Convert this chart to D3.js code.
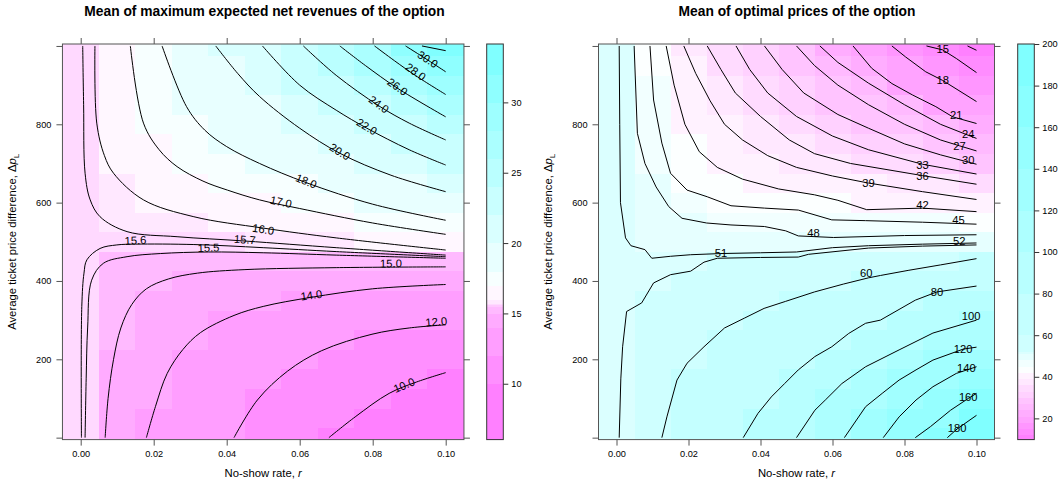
<!DOCTYPE html>
<html>
<head>
<meta charset="utf-8">
<script src="https://cdnjs.cloudflare.com/ajax/libs/d3/7.8.5/d3.min.js"></script>
<style>
  body { margin: 0; background: #fff; }
  text { font-family: "Liberation Sans", Arial, Helvetica, sans-serif; }
</style>
</head>
<body>
<div id="graph"></div>
<script>

// grid of the level plots: no-show rate r (columns) x ticket price difference (rows)
var rates = [0, 0.01, 0.02, 0.03, 0.04, 0.05, 0.06, 0.07, 0.08, 0.09, 0.1];
var priceDiffs = [0, 50, 100, 150, 200, 250, 300, 350, 400, 450, 500,
                  550, 600, 650, 700, 750, 800, 850, 900, 950, 1000];

// axis ticks
var xTicks = [0, 0.02, 0.04, 0.06, 0.08, 0.1];
var yTicks = [0, 200, 400, 600, 800, 1000];
var yLabelled = [200, 400, 600, 800];

// left panel: mean of maximum expected net revenues, one array per rate column
var revenueGrid = [
  [15.65, 15.65, 15.65, 15.65, 15.65, 15.65, 15.65, 15.65, 15.65, 15.65, 15.65, 15.65, 15.65, 15.65, 15.65, 15.65, 15.65, 15.65, 15.65, 15.65, 15.65],
  [14.6, 14.7, 14.8, 14.9, 14.95, 15.05, 15.2, 15.3, 15.4, 15.48, 15.65, 15.75, 15.85, 15.95, 16.2, 16.4, 16.5, 16.6, 16.7, 16.8, 16.9],
  [13.7, 13.95, 14.1, 14.3, 14.5, 14.65, 14.8, 14.9, 15.05, 15.35, 15.62, 15.8, 16.02, 16.3, 16.6, 16.95, 17.2, 17.4, 17.6, 17.75, 17.9],
  [13.0, 13.2, 13.4, 13.6, 13.8, 14.05, 14.4, 14.65, 14.9, 15.3, 15.65, 15.85, 16.3, 16.75, 17.15, 17.45, 17.8, 18.2, 18.6, 19.0, 19.4],
  [12.1, 12.4, 12.7, 13.0, 13.3, 13.6, 13.98, 14.4, 14.8, 15.25, 15.65, 16.0, 16.6, 17.15, 17.6, 18.05, 18.5, 18.9, 19.3, 19.8, 20.3],
  [11.3, 11.6, 11.9, 12.3, 12.6, 13.1, 13.6, 14.15, 14.7, 15.25, 15.72, 16.2, 16.95, 17.5, 18.05, 18.6, 19.2, 19.8, 20.5, 21.2, 21.95],
  [10.5, 10.8, 11.2, 11.6, 12.1, 12.6, 13.3, 13.95, 14.5, 15.25, 15.75, 16.4, 17.2, 17.9, 18.6, 19.4, 20.2, 21.1, 22.0, 22.9, 23.9],
  [9.9, 10.4, 10.8, 11.2, 11.7, 12.2, 12.9, 13.7, 14.4, 15.25, 15.85, 16.7, 17.6, 18.5, 19.5, 20.4, 21.3, 22.3, 23.4, 24.6, 25.9],
  [9.3, 9.8, 10.3, 10.8, 11.3, 11.85, 12.6, 13.5, 14.3, 15.2, 16.0, 17.05, 18.1, 19.1, 20.2, 21.3, 22.4, 23.8, 25.0, 26.2, 27.8],
  [8.6, 9.0, 9.6, 10.2, 10.9, 11.6, 12.2, 13.4, 14.3, 15.3, 16.3, 17.4, 18.7, 19.9, 21.0, 22.4, 23.9, 25.4, 26.8, 28.4, 30.1],
  [8.0, 8.6, 9.2, 9.8, 10.6, 11.4, 12.2, 13.2, 14.2, 15.3, 16.6, 17.8, 19.2, 20.7, 22.1, 23.7, 25.4, 27.1, 28.8, 30.5, 32.4]
];
var revenueLevels = [10, 12, 14, 15, 15.5, 15.6, 15.7, 16, 17, 18, 20, 22, 24, 26, 28, 30, 32];
var revenueRange = [6.03, 34.15];
var revenueKeyTicks = [10, 15, 20, 25, 30];

// contour lines: [rate, price difference]
var revenueLines = [
  {level: 10, label: [0.0886, 134], points: [[0.068, 0], [0.0752, 53], [0.0845, 113], [0.092, 142], [0.1, 166]]},
  {level: 12, label: [0.0974, 296], points: [[0.042, 0], [0.0484, 96], [0.0567, 170], [0.066, 222], [0.0798, 264], [0.09, 280], [0.1, 288]]},
  {level: 14, label: [0.0632, 364], points: [[0.018, 0], [0.0205, 80], [0.0237, 164], [0.028, 225], [0.0328, 268], [0.042, 312], [0.05, 335], [0.063, 358], [0.08, 380], [0.1, 391]]},
  {level: 15, label: [0.085, 445], points: [[0.0067, 0], [0.0075, 100], [0.009, 200], [0.011, 280], [0.014, 340], [0.018, 380], [0.024, 405], [0.032, 420], [0.045, 429], [0.07, 434], [0.1, 436]]},
  {level: 15.5, label: [0.035, 485], points: [[0.0012, 0], [0.0015, 150], [0.0019, 280], [0.003, 402], [0.0062, 445], [0.0127, 462], [0.0218, 470], [0.035, 474], [0.05, 472], [0.07, 466], [0.1, 458]]},
  {level: 15.6, label: [0.015, 504], points: [[0.0002, 0], [0.0003, 335], [0.0009, 420], [0.0017, 454], [0.0053, 483], [0.0099, 492], [0.015, 494], [0.031, 493], [0.05, 485], [0.07, 475], [0.1, 462]]},
  {level: 15.7, label: [0.045, 506], points: [[0.00055, 1000], [0.0008, 850], [0.0012, 675], [0.0026, 607], [0.0053, 564], [0.0127, 526], [0.0264, 513], [0.045, 502], [0.07, 485], [0.1, 466]]},
  {level: 16, label: [0.05, 532], points: [[0.0039, 1000], [0.0044, 803], [0.0065, 720], [0.009, 675], [0.0172, 607], [0.031, 564], [0.05, 535], [0.07, 510], [0.1, 479]]},
  {level: 17, label: [0.0549, 602], points: [[0.0136, 1000], [0.0172, 803], [0.0215, 735], [0.0264, 692], [0.0335, 655], [0.0402, 632], [0.049, 607], [0.06, 585], [0.08, 548], [0.1, 519]]},
  {level: 18, label: [0.0618, 655], points: [[0.0223, 1000], [0.029, 845], [0.034, 785], [0.04, 743], [0.049, 700], [0.0618, 651], [0.08, 596], [0.1, 555]]},
  {level: 20, label: [0.071, 730], points: [[0.037, 1000], [0.043, 930], [0.049, 871], [0.06, 790], [0.071, 726], [0.085, 670], [0.1, 628]]},
  {level: 22, label: [0.0784, 794], points: [[0.0498, 1000], [0.06, 900], [0.07, 836], [0.0784, 790], [0.09, 735], [0.1, 696]]},
  {level: 24, label: [0.0817, 851], points: [[0.061, 1000], [0.07, 925], [0.0817, 847], [0.09, 803], [0.1, 760]]},
  {level: 26, label: [0.0868, 896], points: [[0.071, 1000], [0.078, 950], [0.0868, 892], [0.1, 819]]},
  {level: 28, label: [0.0918, 934], points: [[0.0805, 1000], [0.086, 962], [0.0918, 924], [0.1, 876]]},
  {level: 30, label: [0.0951, 966], points: [[0.089, 1000], [0.0951, 964], [0.1, 934]]},
  {level: 32, label: null, points: [[0.0935, 1000], [0.1, 988]]}
];

// right panel: mean of optimal prices, one array per rate column
var priceGrid = [
  [51.5, 51.5, 51.5, 51.5, 51.5, 51.5, 51.5, 51.5, 51.5, 51.5, 51.5, 51.5, 51.5, 51.5, 51.5, 51.5, 51.5, 51.5, 51.5, 51.5, 51.5],
  [55.5, 55, 54.5, 54, 53.6, 53.2, 52.8, 52.4, 51.9, 51.1, 50.4, 49.7, 49, 48.2, 47.5, 46.9, 46.2, 45.6, 45.05, 44.3, 43.5],
  [67, 65, 63.5, 62, 59.5, 57.5, 56, 54, 52.5, 51.5, 50, 48.3, 46.5, 44.7, 43.8, 42.8, 41.8, 41, 40.3, 39.6, 38.8],
  [77, 74, 71, 68, 65, 62, 59, 57, 55, 52.5, 50, 47.8, 44.8, 43, 41.5, 40.2, 39, 37.8, 36.6, 35.4, 34.2],
  [85, 81.5, 77, 73, 69, 65, 61.5, 58.5, 55.5, 52.5, 49.8, 47.3, 44.5, 41.8, 40.1, 38.4, 36.7, 35, 33.2, 32, 30.6],
  [99.5, 94, 88, 82, 77, 72, 67, 61, 57, 52.6, 49.5, 46.5, 43, 41, 38.5, 36.1, 33.8, 31.9, 30.1, 28.5, 27.1],
  [115, 108, 102, 95, 85, 78, 71, 64, 58, 54, 49.5, 45.5, 42.5, 40, 37, 34.2, 31.5, 29, 27.3, 25, 22.5],
  [130, 124, 117, 108, 98, 90, 79, 70, 61, 55, 49, 45.3, 41, 39, 35.5, 31.8, 29.5, 27, 24.3, 21.2, 19],
  [150, 144, 134, 122, 111, 95, 88, 76, 65, 57, 50, 45.2, 41, 38, 34, 30.2, 27.2, 24.2, 20, 19, 16.5],
  [176, 159, 151, 138, 121, 107, 94, 85, 74, 59, 50, 45.2, 41, 37, 32, 28, 24.2, 20.5, 18.5, 16.5, 14.5],
  [195, 182, 166, 153, 131, 116, 100.5, 87, 74, 61, 49, 44.5, 39.5, 35.8, 29.8, 25.8, 21.2, 19, 16.5, 13.6, 11]
];
var priceLevels = [12, 15, 18, 21, 24, 27, 30, 33, 36, 39, 42, 45, 48, 51, 52, 60, 80, 100, 120, 140, 160, 180];
var priceRange = [9.8, 200];
var priceKeyTicks = [20, 40, 60, 80, 100, 120, 140, 160, 180, 200];

var priceLines = [
  {level: 12, label: null, points: [[0.0975, 1000], [0.1, 989]]},
  {level: 15, label: [0.0906, 991], points: [[0.0861, 1000], [0.0906, 990], [0.0944, 968], [0.1, 932]]},
  {level: 18, label: [0.0906, 913], points: [[0.0765, 1000], [0.0803, 972], [0.0859, 934], [0.0906, 912], [0.1, 858]]},
  {level: 21, label: [0.0944, 824], points: [[0.0657, 1000], [0.0709, 943], [0.0765, 904], [0.0822, 875], [0.0887, 845], [0.0934, 819], [0.1, 802]]},
  {level: 24, label: [0.0977, 774], points: [[0.0565, 1000], [0.0615, 958], [0.07, 905], [0.08, 850], [0.09, 800], [0.0977, 772], [0.1, 764]]},
  {level: 27, label: [0.0953, 745], points: [[0.05, 1000], [0.055, 950], [0.0615, 900], [0.07, 850], [0.08, 800], [0.09, 760], [0.0953, 745], [0.1, 732]]},
  {level: 30, label: [0.0977, 709], points: [[0.0411, 1000], [0.046, 940], [0.052, 880], [0.0615, 825], [0.07, 790], [0.08, 750], [0.09, 722], [0.1, 698]]},
  {level: 33, label: [0.085, 696], points: [[0.0332, 1000], [0.037, 940], [0.042, 880], [0.05, 820], [0.06, 770], [0.07, 735], [0.085, 698], [0.1, 673]]},
  {level: 36, label: [0.085, 668], points: [[0.0252, 1000], [0.029, 940], [0.033, 880], [0.04, 820], [0.048, 760], [0.055, 725], [0.065, 700], [0.085, 669], [0.1, 647]]},
  {level: 39, label: [0.07, 650], points: [[0.0187, 1000], [0.022, 930], [0.026, 860], [0.03, 800], [0.035, 760], [0.042, 720], [0.05, 690], [0.06, 668], [0.07, 650], [0.085, 628], [0.1, 608]]},
  {level: 42, label: [0.085, 595], points: [[0.0138, 1000], [0.016, 900], [0.019, 800], [0.023, 730], [0.028, 690], [0.035, 660], [0.045, 635], [0.055, 620], [0.0615, 606], [0.0695, 582], [0.085, 586], [0.1, 577]]},
  {level: 45, label: [0.095, 555], points: [[0.0093, 1000], [0.0103, 862], [0.0126, 752], [0.015, 675], [0.0196, 632], [0.0252, 615], [0.0318, 592], [0.0411, 586], [0.0505, 581], [0.0598, 556], [0.0692, 554], [0.085, 550], [0.1, 545]]},
  {level: 48, label: [0.0547, 522], points: [[0.0049, 1000], [0.0058, 777], [0.0079, 700], [0.011, 640], [0.0145, 590], [0.0182, 560], [0.025, 548], [0.0318, 543], [0.0411, 539], [0.047, 528], [0.0505, 515], [0.0603, 511], [0.08, 516], [0.1, 518]]},
  {level: 51, label: [0.029, 472], points: [[0.00075, 1000], [0.0009, 800], [0.0011, 600], [0.0025, 510], [0.004, 490], [0.0079, 480], [0.0098, 458], [0.015, 463], [0.0206, 467], [0.029, 470], [0.04, 472], [0.05, 474], [0.06, 485], [0.07, 490], [0.085, 494], [0.1, 497]]},
  {level: 52, label: [0.0952, 502], points: [[0.00075, 0], [0.0012, 150], [0.0017, 232], [0.0028, 322], [0.007, 344], [0.0103, 395], [0.015, 416], [0.0206, 425], [0.0243, 448], [0.028, 458], [0.04, 460], [0.0505, 461], [0.0533, 468], [0.07, 484], [0.085, 489], [0.1, 492]]},
  {level: 60, label: [0.0694, 420], points: [[0.0126, 0], [0.014, 53], [0.0168, 147], [0.0196, 190], [0.0243, 232], [0.03, 280], [0.0355, 305], [0.041, 330], [0.047, 348], [0.055, 372], [0.063, 392], [0.07, 408], [0.0733, 414], [0.081, 427], [0.09, 441], [0.1, 457]]},
  {level: 80, label: [0.089, 373], points: [[0.0352, 0], [0.0393, 62], [0.043, 104], [0.0467, 138], [0.0505, 173], [0.0551, 207], [0.0598, 232], [0.0645, 266], [0.0692, 292], [0.0733, 300], [0.083, 351], [0.089, 372], [0.1, 387]]},
  {level: 100, label: [0.0985, 311], points: [[0.05, 0], [0.0551, 70], [0.058, 96], [0.0626, 138], [0.0692, 181], [0.0785, 224], [0.0879, 267], [0.1, 300]]},
  {level: 120, label: [0.0963, 226], points: [[0.0633, 0], [0.0692, 79], [0.0738, 113], [0.0785, 147], [0.0832, 173], [0.0879, 198], [0.0963, 226], [0.1, 231]]},
  {level: 140, label: [0.0972, 177], points: [[0.0741, 0], [0.0785, 53], [0.0832, 96], [0.0879, 130], [0.0944, 164], [0.1, 181]]},
  {level: 160, label: [0.0977, 104], points: [[0.083, 0], [0.0872, 28], [0.0928, 70], [0.0977, 100], [0.1, 113]]},
  {level: 180, label: [0.0946, 24], points: [[0.0919, 0], [0.0946, 22], [0.1, 57]]}
];


// lattice default regions palette: pink -> white -> cyan (100 colours)
function regionColor(k) {
  if (k < 50) {
    var s = 0.5 - k * 0.49 / 49;
    return d3.rgb(255, 255 * (1 - s), 255).formatHex();
  }
  var s2 = 0.01 + (k - 50) * 0.49 / 49;
  return d3.rgb(255 * (1 - s2), 255, 255).formatHex();
}
function bandColors(n) {
  return d3.range(n).map(function(i) { return regionColor(Math.round(i * 99 / (n - 1))); });
}

// angle of the contour segment under a label, in screen space
function labelAngle(pts, lx) {
  for (var k = 0; k < pts.length - 1; k++) {
    var a = pts[k], b = pts[k + 1];
    if ((lx - a[0]) * (lx - b[0]) <= 0 && a[0] !== b[0]) {
      return Math.atan2(b[1] - a[1], b[0] - a[0]) * 180 / Math.PI;
    }
  }
  return 0;
}

var svg = d3.select("#graph")
  .append("svg")
    .attr("width", 1058)
    .attr("height", 480);

var top0 = 44, bottom0 = 439.6;

function drawPanel(cfg) {
  var g = svg.append("g");

  var x = d3.scaleLinear().domain([-0.005, 0.105]).range([cfg.left, cfg.right]);
  var y = d3.scaleLinear().domain([-5, 1005]).range([bottom0, top0]);

  svg.append("clipPath").attr("id", "clip-" + cfg.id)
    .append("rect")
      .attr("x", cfg.left).attr("y", top0)
      .attr("width", cfg.right - cfg.left).attr("height", bottom0 - top0);

  var colors = bandColors(cfg.levels.length + 1);
  var colorOf = function(v) { return colors[d3.bisectRight(cfg.levels, v)]; };

  // heat cells
  var dx = (rates[1] - rates[0]) / 2, dy = (priceDiffs[1] - priceDiffs[0]) / 2;
  var cells = [];
  cfg.grid.forEach(function(col, i) {
    col.forEach(function(v, j) { cells.push({r: rates[i], p: priceDiffs[j], v: v}); });
  });
  var inner = g.append("g").attr("clip-path", "url(#clip-" + cfg.id + ")");
  inner.selectAll("rect")
    .data(cells)
    .enter()
    .append("rect")
      .attr("x", function(d) { return x(d.r - dx); })
      .attr("y", function(d) { return y(d.p + dy); })
      .attr("width", function(d) { return x(d.r + dx) - x(d.r - dx) + 0.3; })
      .attr("height", function(d) { return y(d.p - dy) - y(d.p + dy) + 0.3; })
      .attr("fill", function(d) { return colorOf(d.v); })
      .attr("shape-rendering", "crispEdges");

  // contour lines
  var line = d3.line()
    .x(function(d) { return x(d[0]); })
    .y(function(d) { return y(d[1]); })
    .curve(cfg.curve);
  inner.selectAll("path.contour")
    .data(cfg.lines)
    .enter()
    .append("path")
      .attr("class", "contour")
      .attr("d", function(d) { return line(d.points); })
      .attr("fill", "none")
      .attr("stroke", "#000")
      .attr("stroke-width", 1);

  // contour labels
  g.selectAll("text.clabel")
    .data(cfg.lines.filter(function(d) { return d.label; }))
    .enter()
    .append("text")
      .attr("class", "clabel")
      .attr("text-anchor", "middle")
      .attr("dominant-baseline", "central")
      .attr("font-size", 11.2)
      .attr("fill", "#000")
      .attr("transform", function(d) {
        var lx = x(d.label[0]), ly = y(d.label[1]);
        var ang = 0;
        if (cfg.align) {
          var pts = d.points.map(function(p) { return [x(p[0]), y(p[1])]; });
          ang = labelAngle(pts, lx);
        }
        return "translate(" + lx + "," + ly + ") rotate(" + ang + ")";
      })
      .text(function(d) { return cfg.fmt(d.level); });

  // panel border
  g.append("rect")
    .attr("x", cfg.left).attr("y", top0)
    .attr("width", cfg.right - cfg.left).attr("height", bottom0 - top0)
    .attr("fill", "none").attr("stroke", "#555").attr("stroke-width", 1);

  // axes
  var axes = [
    g.append("g").attr("transform", "translate(0," + bottom0 + ")")
      .call(d3.axisBottom(x).tickValues(xTicks).tickSize(6).tickPadding(5).tickFormat(d3.format(".2f"))),
    g.append("g").attr("transform", "translate(0," + top0 + ")")
      .call(d3.axisTop(x).tickValues(xTicks).tickSize(6).tickFormat("")),
    g.append("g").attr("transform", "translate(" + cfg.left + ",0)")
      .call(d3.axisLeft(y).tickValues(yTicks).tickSize(6).tickPadding(5)
        .tickFormat(function(d) { return yLabelled.indexOf(d) >= 0 ? d : ""; })),
    g.append("g").attr("transform", "translate(" + cfg.right + ",0)")
      .call(d3.axisRight(y).tickValues(yTicks).tickSize(6).tickFormat(""))
  ];
  axes.forEach(function(a) {
    a.select(".domain").remove();
    a.attr("font-family", null).attr("font-size", 9.2);
    a.selectAll("line").attr("stroke", "#555");
    a.selectAll("text").attr("fill", "#000");
  });

  // colour key
  var c = d3.scaleLinear().domain(cfg.range).range([bottom0, top0]);
  var bounds = [cfg.range[0]].concat(cfg.levels, [cfg.range[1]]);
  var bands = d3.range(bounds.length - 1).map(function(k) { return {lo: bounds[k], hi: bounds[k + 1], col: colors[k]}; });
  g.append("g").selectAll("rect")
    .data(bands)
    .enter()
    .append("rect")
      .attr("x", cfg.keyX)
      .attr("y", function(d) { return c(d.hi); })
      .attr("width", 16.6)
      .attr("height", function(d) { return c(d.lo) - c(d.hi) + 0.3; })
      .attr("fill", function(d) { return d.col; })
      .attr("shape-rendering", "crispEdges");
  g.append("rect")
    .attr("x", cfg.keyX).attr("y", top0)
    .attr("width", 16.6).attr("height", bottom0 - top0)
    .attr("fill", "none").attr("stroke", "#333").attr("stroke-width", 1);
  var key = g.append("g").attr("transform", "translate(" + (cfg.keyX + 16.6) + ",0)")
    .call(d3.axisRight(c).tickValues(cfg.keyTicks).tickSize(5).tickPadding(3));
  key.select(".domain").remove();
  key.attr("font-family", null).attr("font-size", 9.2);
  key.selectAll("line").attr("stroke", "#333");
  key.selectAll("text").attr("fill", "#000");

  // titles
  g.append("text")
    .attr("x", cfg.titleX).attr("y", 16)
    .attr("text-anchor", "middle")
    .attr("font-weight", "bold")
    .attr("font-size", 13.8)
    .text(cfg.title);

  var xl = g.append("text")
    .attr("x", (cfg.left + cfg.right) / 2).attr("y", 477)
    .attr("text-anchor", "middle")
    .attr("font-size", 11.3);
  xl.append("tspan").text("No-show rate, ");
  xl.append("tspan").attr("font-style", "italic").text("r");

  var yl = g.append("text")
    .attr("transform", "translate(" + cfg.ylabX + "," + ((top0 + bottom0) / 2) + ") rotate(-90)")
    .attr("text-anchor", "middle")
    .attr("font-size", 11.3);
  yl.append("tspan").text("Average ticket price difference, \u0394");
  yl.append("tspan").attr("font-style", "italic").text("p");
  yl.append("tspan").attr("font-size", 8).attr("dy", "0.35em").text("L");
}

drawPanel({
  id: "revenue", left: 62.45, right: 463.95, keyX: 486.7,
  title: "Mean of maximum expected net revenues of the option", titleX: 264.5, ylabX: 16,
  grid: revenueGrid, levels: revenueLevels, range: revenueRange, keyTicks: revenueKeyTicks,
  lines: revenueLines, fmt: d3.format(".1f"), curve: d3.curveCatmullRom.alpha(0.5), align: true
});

drawPanel({
  id: "price", left: 598.5, right: 994.5, keyX: 1017.7,
  title: "Mean of optimal prices of the option", titleX: 797, ylabX: 552,
  grid: priceGrid, levels: priceLevels, range: priceRange, keyTicks: priceKeyTicks,
  lines: priceLines, fmt: d3.format("d"), curve: d3.curveLinear, align: false
});

</script>
</body>
</html>
